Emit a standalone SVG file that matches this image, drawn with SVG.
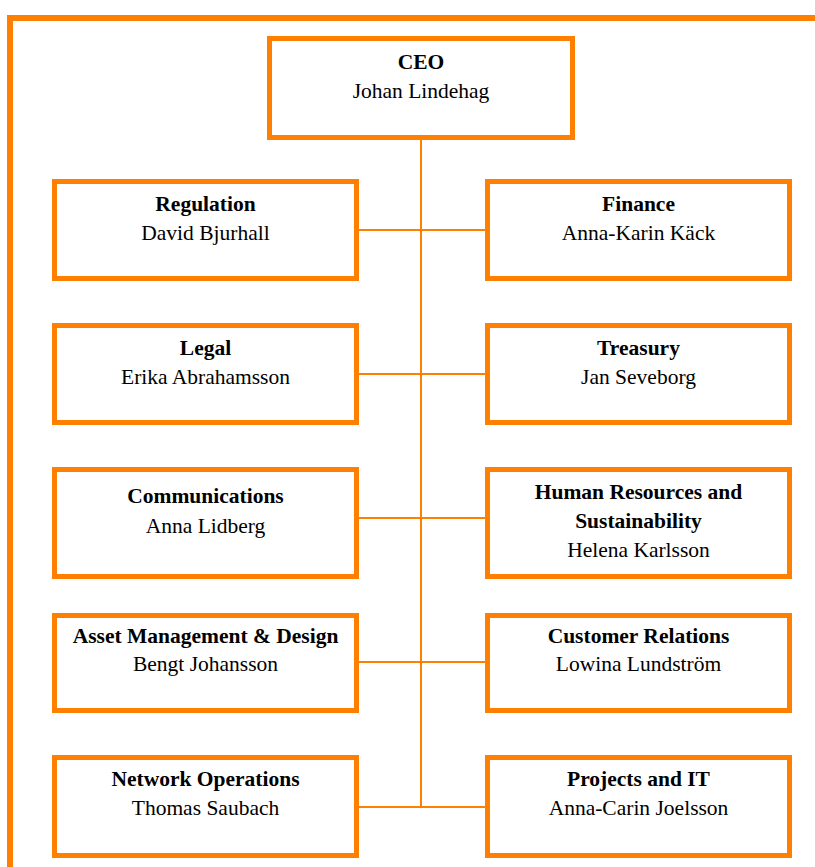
<svg xmlns="http://www.w3.org/2000/svg" width="815" height="867" viewBox="0 0 815 867">
<style>
.box{fill:#fff;stroke:#ff8000;stroke-width:5}
.ln{fill:none;stroke:#ff8000;stroke-width:2}
.frame{fill:none;stroke:#ff8000;stroke-width:6}
text{font-family:"Liberation Serif","Times New Roman",serif;font-size:21.5px;fill:#000;text-anchor:middle}
.t{font-weight:bold}
</style>
<rect width="815" height="867" fill="#fff"/>
<path class="frame" d="M10,867 V18 H815"/>
<g id="connectors">
<line class="ln" x1="421" y1="140" x2="421" y2="808"/>
<line class="ln" x1="359" y1="230" x2="485" y2="230"/>
<line class="ln" x1="359" y1="374" x2="485" y2="374"/>
<line class="ln" x1="359" y1="518" x2="485" y2="518"/>
<line class="ln" x1="359" y1="662" x2="485" y2="662"/>
<line class="ln" x1="359" y1="807" x2="485" y2="807"/>
</g>
<g id="ceo"><rect class="box" x="269.5" y="38.5" width="303" height="99"/><text class="t" x="421" y="69">CEO</text><text x="421" y="98">Johan Lindehag</text></g>
<g id="regulation"><rect class="box" x="54.5" y="181.5" width="302" height="97"/><text class="t" x="205.5" y="211">Regulation</text><text x="205.5" y="240">David Bjurhall</text></g>
<g id="finance"><rect class="box" x="487.5" y="181.5" width="302" height="97"/><text class="t" x="638.5" y="211">Finance</text><text x="638.5" y="240">Anna-Karin Käck</text></g>
<g id="legal"><rect class="box" x="54.5" y="325.5" width="302" height="97"/><text class="t" x="205.5" y="355">Legal</text><text x="205.5" y="384">Erika Abrahamsson</text></g>
<g id="treasury"><rect class="box" x="487.5" y="325.5" width="302" height="97"/><text class="t" x="638.5" y="355">Treasury</text><text x="638.5" y="384">Jan Seveborg</text></g>
<g id="communications"><rect class="box" x="54.5" y="469.5" width="302" height="107"/><text class="t" x="205.5" y="503">Communications</text><text x="205.5" y="533">Anna Lidberg</text></g>
<g id="hr"><rect class="box" x="487.5" y="469.5" width="302" height="107"/><text class="t" x="638.5" y="499">Human Resources and</text><text class="t" x="638.5" y="528">Sustainability</text><text x="638.5" y="557">Helena Karlsson</text></g>
<g id="asset"><rect class="box" x="54.5" y="615.5" width="302" height="95"/><text class="t" x="205.5" y="643">Asset Management &amp; Design</text><text x="205.5" y="671">Bengt Johansson</text></g>
<g id="customer"><rect class="box" x="487.5" y="615.5" width="302" height="95"/><text class="t" x="638.5" y="643">Customer Relations</text><text x="638.5" y="671">Lowina Lundström</text></g>
<g id="network"><rect class="box" x="54.5" y="757.5" width="302" height="98"/><text class="t" x="205.5" y="786">Network Operations</text><text x="205.5" y="815">Thomas Saubach</text></g>
<g id="projects"><rect class="box" x="487.5" y="757.5" width="302" height="98"/><text class="t" x="638.5" y="786">Projects and IT</text><text x="638.5" y="815">Anna-Carin Joelsson</text></g>
</svg>
